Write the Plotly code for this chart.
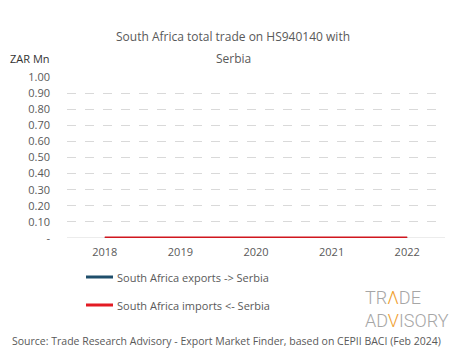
import plotly.graph_objects as go

years = ["2018", "2019", "2020", "2021", "2022"]
exports_vals = [0, 0, 0, 0, 0]
imports_vals = [0, 0, 0, 0, 0]
y_ticks = [0, 0.1, 0.2, 0.3, 0.4, 0.5, 0.6, 0.7, 0.8, 0.9, 1.0]
y_labels = ["-", "0.10", "0.20", "0.30", "0.40", "0.50", "0.60", "0.70", "0.80", "0.90", "1.00"]

FONT = "Open Sans"
GRAY = "#595959"

fig = go.Figure()
fig.add_trace(go.Scatter(x=years, y=exports_vals, mode="lines", name="South Africa exports -> Serbia",
                         line=dict(color="#1f4e6b", width=2), showlegend=False))
fig.add_trace(go.Scatter(x=years, y=imports_vals, mode="lines", name="South Africa imports <- Serbia",
                         line=dict(color="#d0161e", width=3), showlegend=False))

fig.update_layout(
    width=465, height=359,
    margin=dict(l=67, r=20, t=77, b=121),
    paper_bgcolor="white", plot_bgcolor="white",
    font=dict(family=FONT, color=GRAY, size=11),
    showlegend=False,
    xaxis=dict(type="category", range=[-0.5, 4.5], showgrid=False, showline=False, zeroline=False,
               ticks="", tickfont=dict(size=11, color=GRAY), ticklabelstandoff=6),
    yaxis=dict(range=[0, 1.0], tickvals=y_ticks, ticktext=y_labels, showgrid=True,
               gridcolor="#d9d9d9", griddash="dash", gridwidth=1, zeroline=False,
               showline=False, tickfont=dict(size=11, color=GRAY), ticklabelstandoff=16),
)

# baseline axis line
fig.add_shape(type="line", xref="paper", yref="y", x0=0, x1=1, y0=0, y1=0,
              line=dict(color="#d9d9d9", width=1), layer="below")

def px(x):
    return (x - 67) / 378

def py(y):
    return (238 - y) / 161

title_style = dict(font=dict(size=12, color=GRAY), showarrow=False, xanchor="center", yanchor="middle")
fig.add_annotation(text="South Africa total trade on HS940140 with", xref="paper", yref="paper",
                   x=px(233), y=py(37), **title_style)
fig.add_annotation(text="Serbia", xref="paper", yref="paper", x=px(233), y=py(58), **title_style)
fig.add_annotation(text="ZAR Mn", xref="paper", yref="paper", x=px(8), y=py(58),
                   xanchor="left", yanchor="middle", showarrow=False, font=dict(size=11, color="#333333"))

# legend
for i, (name, col) in enumerate([("South Africa exports -> Serbia", "#1f4e6b"),
                                  ("South Africa imports <- Serbia", "#e31b23")]):
    ypx = 277 + 28 * i
    fig.add_shape(type="line", xref="paper", yref="paper",
                  x0=px(86), x1=px(113), y0=py(ypx), y1=py(ypx),
                  line=dict(color=col, width=3))
    fig.add_annotation(text=name, xref="paper", yref="paper", x=px(115), y=py(ypx),
                       xanchor="left", yanchor="middle", showarrow=False, font=dict(size=11, color=GRAY))

# logo
fig.add_annotation(text="TR<span style='color:#f0a030'>Λ</span>DE<br>AD<span style='color:#f0a030'>V</span>ISORY",
                   xref="paper", yref="paper", x=px(363), y=py(309), xanchor="left", yanchor="middle",
                   align="left", showarrow=False,
                   font=dict(size=18, color="#a6a6a6", family="Roboto", weight=300))

fig.add_annotation(text="Source: Trade Research Advisory - Export Market Finder, based on CEPII BACI (Feb 2024)",
                   xref="paper", yref="paper", x=px(10), y=py(341),
                   xanchor="left", yanchor="middle", showarrow=False, font=dict(size=10.5, color=GRAY))

fig.write_html("out.html", config={"displayModeBar": False},
               post_script="document.body.style.margin='0px';")
